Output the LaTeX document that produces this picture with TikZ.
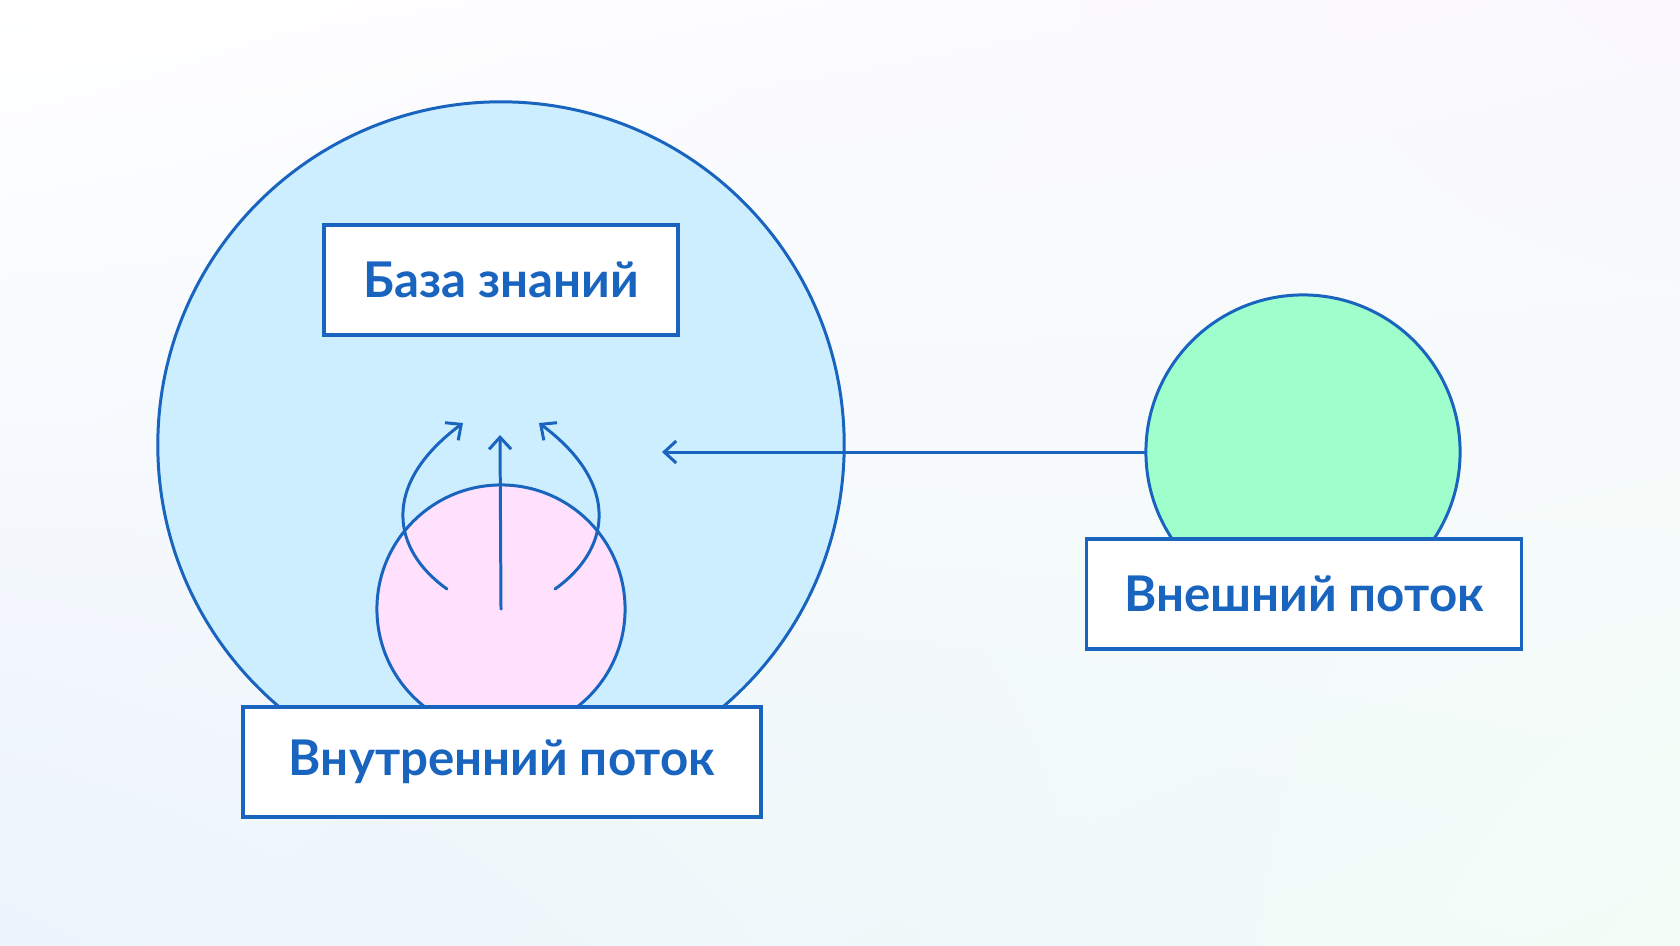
\documentclass[tikz,border=0pt]{standalone}
\usepackage{fontspec}
\setmainfont{Lato}
\usetikzlibrary{arrows.meta, shadings}
\definecolor{lineblue}{RGB}{24,100,190}
\definecolor{knowfill}{RGB}{204,238,255}
\definecolor{innerfill}{RGB}{255,224,253}
\definecolor{outerfill}{RGB}{158,255,205}
\definecolor{bgtr}{RGB}{250,248,254}
\definecolor{bgbl}{RGB}{236,243,252}
\definecolor{bgbr}{RGB}{242,253,247}
\tikzset{
  lbox/.style = {draw=lineblue, line width=1pt, fill=white, minimum height=1.1cm,
                 font=\bfseries\fontsize{14}{16}\selectfont, text=lineblue},
  ball/.style = {circle, draw=lineblue, line width=0.85pt, inner sep=0pt},
  arr/.style  = {-{Straight Barb[length=1.2mm, width=2.2mm]}, draw=lineblue,
                 line width=0.85pt, line cap=round}
}

\begin{document}
\begin{tikzpicture}[x=0.01cm, y=-0.01cm]
  \shade[upper left=white, upper right=bgtr, lower left=bgbl, lower right=bgbr]
    (0,0) rectangle (1680,945);
  \useasboundingbox (0,0) rectangle (1680,945);

  \node[ball, fill=knowfill,  minimum size=6.86cm] (base)  at (501,445)  {};
  \node[ball, fill=outerfill, minimum size=3.14cm] (outer) at (1303,452) {};
  \node[ball, fill=innerfill, minimum size=2.48cm] (inner) at (501,609)  {};

  \coordinate (ext)  at (662,452);
  \coordinate (up)   at (500,435);
  \coordinate (ls)   at (447,589);
  \coordinate (le)   at (463,423);
  \coordinate (rs)   at (555,589);
  \coordinate (re)   at (539,423);

  \draw[arr] (outer.west) -- (ext);
  \draw[arr] (inner.center) -- (up);
  \draw[arr] (ls) .. controls (392,550) and (380,485) .. (le);
  \draw[arr] (rs) .. controls (610,550) and (622,485) .. (re);

  \node[lbox, minimum width=3.54cm] (kb)   at (501,280)  {База знаний};
  \node[lbox, minimum width=5.18cm] (inb)  at (502,762)  {Внутренний поток};
  \node[lbox, minimum width=4.35cm] (outb) at (1304,594) {Внешний поток};
\end{tikzpicture}
\end{document}
